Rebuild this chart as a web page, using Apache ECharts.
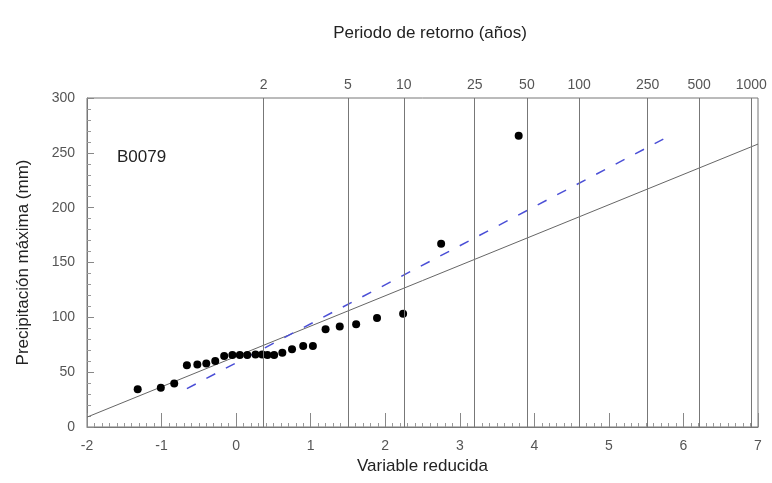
<!DOCTYPE html>
<html>
<head>
<meta charset="utf-8">
<script src="https://cdn.jsdelivr.net/npm/echarts@6/dist/echarts.min.js"></script>
<style>
  html, body { margin: 0; padding: 0; background: #fff; }
  #chart { width: 772px; height: 483px; }
</style>
</head>
<body>
<div id="chart"></div>
<script>
var dom = document.getElementById("chart");
var myChart = echarts.init(dom);

// return periods (years) and their reduced variate position on the x axis
var periodLabels = ['2', '5', '10', '25', '50', '100', '250', '500', '1000'];
var periodPos = [0.367, 1.500, 2.250, 3.199, 3.902, 4.600, 5.519, 6.214, 6.907];

// observed maxima: reduced variate / precipitation (mm)
var obsX = [-1.32, -1.01, -0.83, -0.66, -0.52, -0.40, -0.28, -0.16, -0.05, 0.05, 0.15, 0.26, 0.35, 0.42, 0.51,
            0.62, 0.75, 0.90, 1.03, 1.20, 1.39, 1.61, 1.89, 2.24, 2.75, 3.79];
var obsY = [34.5, 35.7, 39.6, 56.2, 57.0, 57.9, 60.2, 64.7, 65.7, 65.7, 65.7, 66.1, 66.1, 65.7, 65.7,
            67.8, 70.9, 73.9, 73.9, 89.2, 91.6, 93.6, 99.5, 103.2, 167, 265.6];

// fitted lines (end points)
var fitSolid = [[-2, 9], [7, 258]];
var fitDashed = [[-0.66, 35], [5.73, 262.5]];

var periodLines = periodPos.map(function (p, i) {
    return { xAxis: p, name: periodLabels[i] };
});

var points = obsX.map(function (x, i) { return [x, obsY[i]]; });

option = {
    animation: false,
    backgroundColor: '#fff',
    textStyle: { fontFamily: 'Liberation Sans, Arial, sans-serif' },
    title: [{
        text: 'Periodo de retorno (años)',
        left: 425,
        top: 20,
        textAlign: 'center',
        textStyle: { fontSize: 17, fontWeight: 'normal', color: '#222' }
    }, {
        text: 'B0079',
        left: 112,
        top: 144,
        textStyle: { fontSize: 17, fontWeight: 'normal', color: '#222' }
    }],
    grid: {
        left: 87,
        right: 14,
        top: 98,
        bottom: 56,
        show: true,
        borderColor: '#777',
        borderWidth: 1
    },
    xAxis: {
        type: 'value',
        min: -2,
        max: 7,
        interval: 1,
        name: 'Variable reducida',
        nameLocation: 'middle',
        nameGap: 31,
        nameTextStyle: { fontSize: 17, color: '#222' },
        axisLine: { onZero: false, lineStyle: { color: '#777' } },
        axisTick: { inside: true, length: 14, lineStyle: { color: '#888' } },
        minorTick: { show: true, splitNumber: 10, length: 4, lineStyle: { color: '#999' } },
        axisLabel: { fontSize: 14, color: '#555', margin: 12 },
        splitLine: { show: false }
    },
    yAxis: {
        type: 'value',
        min: 0,
        max: 300,
        interval: 50,
        name: 'Precipitación máxima (mm)',
        nameLocation: 'middle',
        nameGap: 55,
        nameTextStyle: { fontSize: 17, color: '#222' },
        axisLine: { onZero: false, lineStyle: { color: '#777' } },
        axisTick: { inside: true, length: 7, lineStyle: { color: '#888' } },
        minorTick: { show: true, splitNumber: 5, length: 4, lineStyle: { color: '#999' } },
        axisLabel: { fontSize: 14, color: '#555', margin: 12 },
        splitLine: { show: false }
    },
    series: [
        {
            name: 'Gumbel',
            type: 'line',
            data: fitSolid,
            symbol: 'none',
            lineStyle: { color: '#666', width: 1 },
            markLine: {
                silent: true,
                symbol: 'none',
                lineStyle: { color: '#777', width: 1, type: 'solid' },
                label: {
                    show: true,
                    position: 'end',
                    formatter: '{b}',
                    fontSize: 14,
                    color: '#555',
                    distance: 6
                },
                data: periodLines
            },
            z: 3
        },
        {
            name: 'Ajuste',
            type: 'line',
            data: fitDashed,
            symbol: 'none',
            lineStyle: { color: '#4b4fd6', width: 1.5, type: [10, 12] },
            z: 3
        },
        {
            name: 'Observado',
            type: 'scatter',
            data: points,
            symbol: 'circle',
            symbolSize: 8,
            itemStyle: { color: '#000', opacity: 1 },
            z: 4
        }
    ]
};

myChart.setOption(option, true);

window.addEventListener("resize", function () {
    myChart.resize();
});
</script>
</body>
</html>
